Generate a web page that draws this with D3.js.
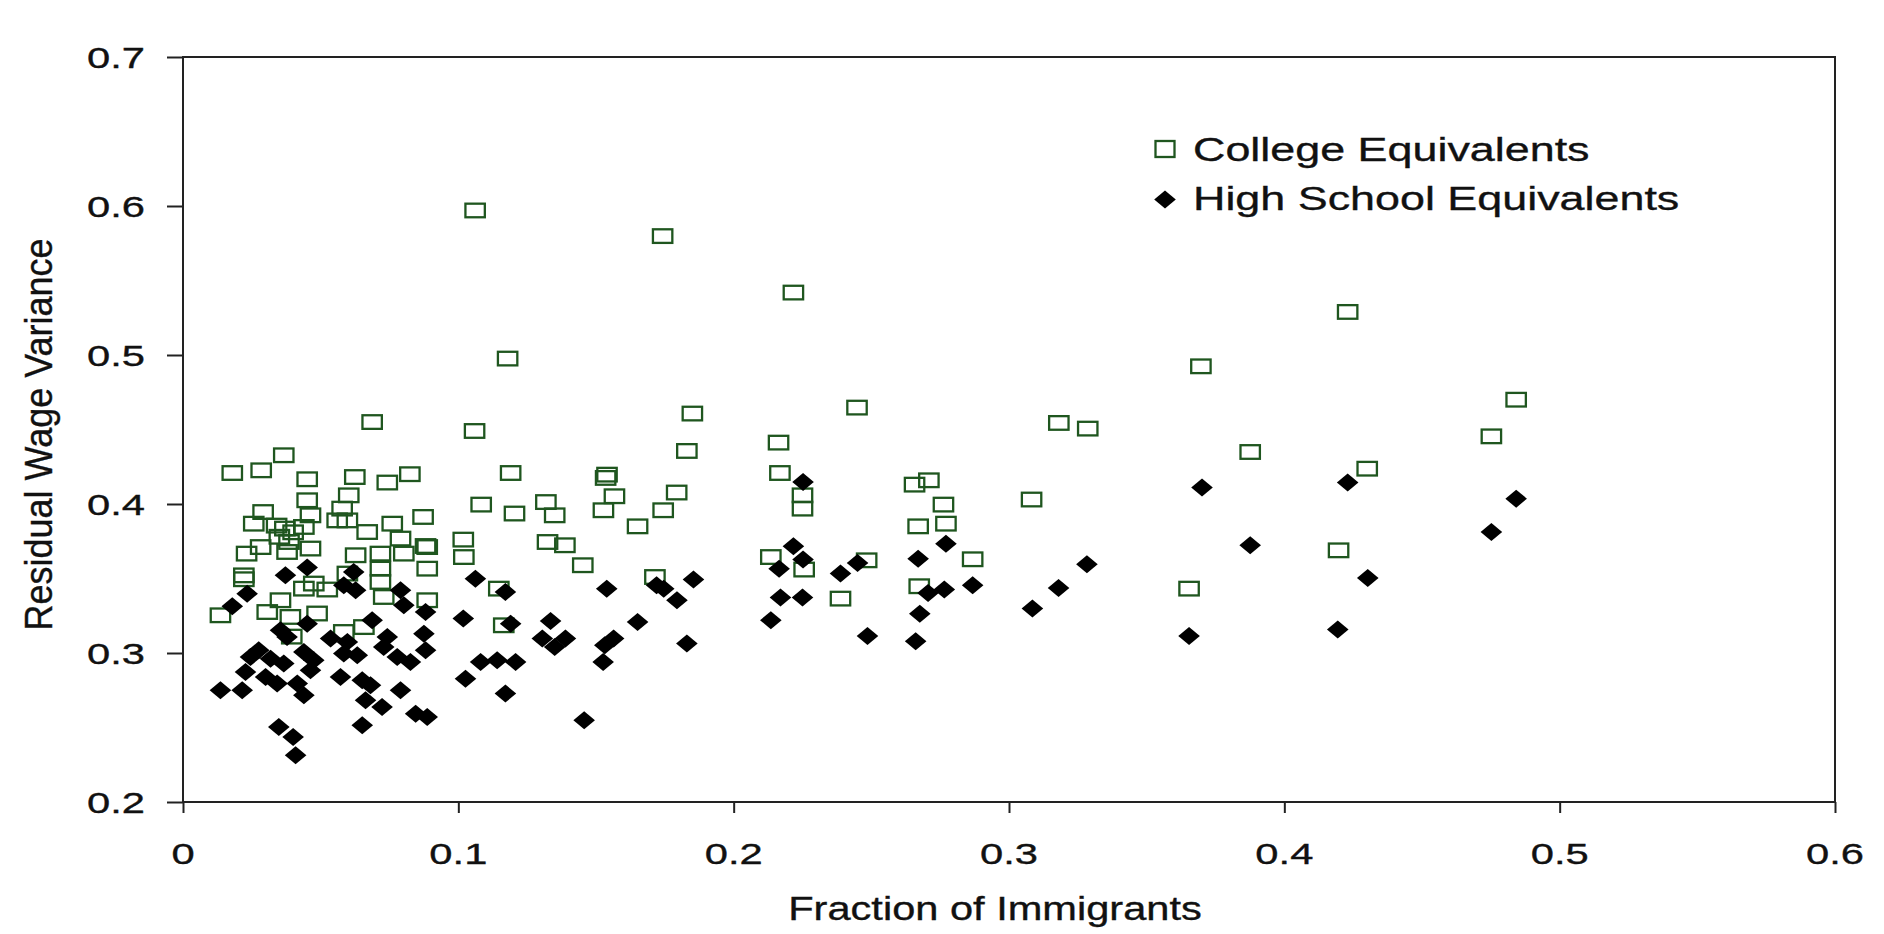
<!DOCTYPE html>
<html>
<head>
<meta charset="utf-8">
<script src="https://cdn.jsdelivr.net/npm/d3@7"></script>
<style>
  body { margin: 0; background: #fff; }
  text { font-family: "Liberation Sans", Arial, sans-serif; fill: #111; stroke: #111; stroke-width: 0.35; }
</style>
</head>
<body>
<div id="chart"></div>
<script>
// [fraction of immigrants, residual wage variance]
var collegePts = [
  [0.0687,0.455],[0.0179,0.4208],[0.0284,0.4226],[0.0366,0.4327],[0.0451,0.4166],[0.0624,0.4181],[0.0742,0.4144],[0.0824,0.42],
  [0.0451,0.4025],[0.0602,0.4058],[0.0291,0.3946],[0.0463,0.3924],[0.0578,0.3969],[0.0872,0.3913],
  [0.0257,0.3868],[0.0439,0.3846],[0.056,0.389],[0.0597,0.389],[0.0669,0.3812],[0.076,0.3868],[0.079,0.3768],[0.0881,0.3718],
  [0.0231,0.3667],[0.0282,0.3711],[0.0378,0.3678],[0.0463,0.3701],[0.0627,0.3656],[0.0717,0.3667],[0.0802,0.3667],[0.0887,0.3711],
  [0.0221,0.3521],[0.0221,0.3495],[0.0887,0.3566],[0.0717,0.3566],[0.0597,0.3533],
  [0.0439,0.3432],[0.0475,0.3466],[0.0524,0.3426],[0.0717,0.3477],[0.0729,0.3376],[0.0887,0.3354],[0.0354,0.3354],
  [0.0136,0.3253],[0.0306,0.3275],[0.039,0.3242],[0.0487,0.3265],[0.0584,0.3141],[0.0657,0.3174],
  [0.034,0.3855],[0.037,0.3835],[0.040,0.381],[0.035,0.378],[0.0385,0.3745],[0.0395,0.311],
  [0.1061,0.597],[0.1179,0.4976],[0.1059,0.449],[0.1083,0.3996],[0.119,0.4208],[0.1204,0.3936],[0.1018,0.3761],[0.102,0.3644],[0.1147,0.3432],[0.1165,0.3186],
  [0.2217,0.5419],[0.185,0.4607],[0.2448,0.4647],[0.3181,0.4544],[0.3286,0.4506],[0.183,0.4356],[0.2163,0.4412],[0.154,0.4197],[0.1535,0.4175],
  [0.2168,0.4208],[0.2709,0.4159],[0.2657,0.413],[0.1567,0.4052],[0.1793,0.4077],[0.225,0.4058],[0.225,0.3969],[0.1527,0.3958],[0.1744,0.3958],
  [0.2762,0.3996],[0.3082,0.403],[0.135,0.3924],[0.1318,0.4013],[0.1651,0.385],[0.267,0.385],[0.2771,0.3868],[0.1324,0.3745],[0.1387,0.3723],
  [0.1452,0.3589],[0.2135,0.3644],[0.2483,0.3622],[0.2256,0.356],[0.2868,0.3629],[0.1714,0.351],[0.2674,0.3448],[0.2388,0.3365],[0.1742,0.5798],
  [0.423,0.5289],[0.3697,0.4924],[0.4842,0.470],[0.4752,0.4454],[0.3876,0.4349],[0.4301,0.4237],[0.4197,0.3689],[0.3654,0.3432]
];

var hsPts = [
  [0.0451,0.3573],[0.0372,0.3521],[0.062,0.3544],[0.0584,0.3454],[0.0627,0.3421],[0.079,0.3421],[0.0802,0.332],[0.0881,0.3275],
  [0.0233,0.3398],[0.0179,0.3313],[0.0451,0.3197],[0.0687,0.322],[0.0354,0.3152],[0.0378,0.3108],[0.0536,0.3097],[0.0597,0.3074],
  [0.0742,0.3108],[0.0875,0.313],[0.0881,0.3018],[0.0275,0.3018],[0.0245,0.2973],[0.0318,0.2962],[0.0366,0.2929],[0.0439,0.3007],
  [0.0475,0.2951],[0.0463,0.2884],[0.0584,0.2996],[0.0633,0.2985],[0.0729,0.304],[0.0778,0.2973],[0.0826,0.294],[0.0227,0.2872],
  [0.03,0.2839],[0.0342,0.2795],[0.0415,0.2795],[0.0439,0.2716],[0.0136,0.275],[0.0215,0.275],[0.0572,0.2839],[0.0651,0.2817],
  [0.0681,0.2783],[0.0663,0.2683],[0.079,0.275],[0.0723,0.2638],[0.0845,0.2593],[0.0887,0.257],[0.0651,0.2515],[0.0348,0.2503],
  [0.04,0.2436],[0.0409,0.2314],
  [0.1062,0.3499],[0.1171,0.341],[0.1018,0.3231],[0.119,0.3197],[0.1081,0.294],[0.1141,0.2951],[0.1208,0.294],[0.1026,0.2828],[0.1171,0.2728],
  [0.2252,0.4148],[0.2217,0.3716],[0.2252,0.3627],[0.2771,0.3734],[0.267,0.3633],[0.245,0.3604],[0.3283,0.3595],[0.2165,0.3566],
  [0.2388,0.3533],[0.1854,0.3493],[0.1539,0.3432],[0.172,0.3454],[0.1746,0.3432],[0.2765,0.3426],[0.2706,0.3403],[0.2868,0.3454],
  [0.318,0.3436],[0.1794,0.3354],[0.217,0.3372],[0.225,0.3372],[0.3085,0.3298],[0.2676,0.3264],[0.2135,0.322],[0.1651,0.3208],
  [0.1335,0.3215],[0.1389,0.3097],[0.135,0.304],[0.1305,0.3097],[0.1564,0.3097],[0.1532,0.3052],[0.183,0.3063],[0.2486,0.3114],
  [0.2661,0.3079],[0.1526,0.294],[0.1457,0.2548],
  [0.3701,0.411],[0.423,0.4144],[0.4842,0.4036],[0.4752,0.3812],[0.3876,0.3723],[0.4303,0.3503],[0.4194,0.3157],[0.3654,0.3114]
];

var xTicks = [0, 0.1, 0.2, 0.3, 0.4, 0.5, 0.6];
var yTicks = [0.2, 0.3, 0.4, 0.5, 0.6, 0.7];
var seriesNames = ["College Equivalents", "High School Equivalents"];
var xTitle = "Fraction of Immigrants";
var yTitle = "Residual Wage Variance";

var margin = {top: 57, right: 49, bottom: 132, left: 183},
    width = 1884 - margin.left - margin.right,
    height = 934 - margin.top - margin.bottom;

var green = "#1f561f";

var svg = d3.select("#chart").append("svg")
    .attr("width", 1884)
    .attr("height", 934)
  .append("g")
    .attr("transform", "translate(" + margin.left + "," + margin.top + ")");

var x = d3.scaleLinear().domain([0, 0.6]).range([0, width]);
var y = d3.scaleLinear().domain([0.2, 0.7]).range([height, 0]);

// axes (ticks only, labels drawn separately so they can be stretched)
svg.append("g")
    .call(d3.axisLeft(y).tickValues(yTicks).tickSize(16).tickFormat(""));
svg.append("g")
    .attr("transform", "translate(0," + height + ")")
    .call(d3.axisBottom(x).tickValues(xTicks).tickSize(11).tickFormat(""));
svg.selectAll(".domain").remove();
svg.selectAll(".tick line").attr("stroke", "#222").attr("stroke-width", 2);

// frame
svg.append("rect")
    .attr("width", width).attr("height", height)
    .attr("fill", "none").attr("stroke", "#222").attr("stroke-width", 2);

// tick labels
svg.selectAll(".ylab").data(yTicks).enter().append("text")
    .attr("class", "ylab")
    .attr("text-anchor", "end")
    .attr("font-size", 30)
    .attr("transform", function(d) { return "translate(-38," + (y(d) + 10.5) + ") scale(1.39,1)"; })
    .text(function(d) { return String(d); });

svg.selectAll(".xlab").data(xTicks).enter().append("text")
    .attr("class", "xlab")
    .attr("text-anchor", "middle")
    .attr("font-size", 30)
    .attr("transform", function(d) { return "translate(" + x(d) + "," + (height + 62) + ") scale(1.39,1)"; })
    .text(function(d) { return String(d); });

// axis titles
svg.append("text")
    .attr("text-anchor", "middle")
    .attr("font-size", 32.5)
    .attr("transform", "translate(" + (width / 2 - 14) + "," + (height + 118) + ") scale(1.28,1)")
    .text(xTitle);

svg.append("text")
    .attr("text-anchor", "middle")
    .attr("font-size", 36)
    .attr("transform", "translate(-131," + (height / 2 + 5) + ") scale(1.1,1) rotate(-90)")
    .text(yTitle);

// points
var diamond = "M0,-9L10.8,0L0,9L-10.8,0Z";

svg.selectAll(".college").data(collegePts).enter().append("rect")
    .attr("class", "college")
    .attr("x", function(d) { return x(d[0]) - 9.7; })
    .attr("y", function(d) { return y(d[1]) - 6.8; })
    .attr("width", 19.4).attr("height", 13.6)
    .attr("fill", "none").attr("stroke", green).attr("stroke-width", 2.3);

svg.selectAll(".hs").data(hsPts).enter().append("path")
    .attr("class", "hs")
    .attr("d", diamond)
    .attr("transform", function(d) { return "translate(" + x(d[0]) + "," + y(d[1]) + ")"; })
    .attr("fill", "#000");

// legend
var legend = svg.append("g").attr("transform", "translate(982,92)");
legend.append("rect")
    .attr("x", -9.5).attr("y", -8).attr("width", 19).attr("height", 16)
    .attr("fill", "none").attr("stroke", green).attr("stroke-width", 2.3);
legend.append("path")
    .attr("d", diamond)
    .attr("transform", "translate(0,50.5)")
    .attr("fill", "#000");
legend.selectAll(".ltext").data(seriesNames).enter().append("text")
    .attr("class", "ltext")
    .attr("font-size", 34)
    .attr("transform", function(d, i) { return "translate(28," + (12 + i * 49) + ") scale(1.32,1)"; })
    .text(function(d) { return d; });
</script>
</body>
</html>
